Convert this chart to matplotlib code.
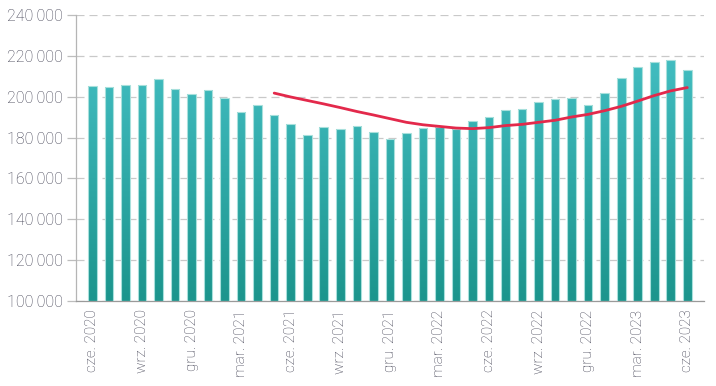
import numpy as np
import matplotlib

matplotlib.use("Agg")
import matplotlib.pyplot as plt
from matplotlib.colors import LinearSegmentedColormap

# monthly values, cze. 2020 .. cze. 2023
months = [
    "cze. 2020", "lip. 2020", "sie. 2020", "wrz. 2020", "paź. 2020", "lis. 2020",
    "gru. 2020", "sty. 2021", "lut. 2021", "mar. 2021", "kwi. 2021", "maj. 2021",
    "cze. 2021", "lip. 2021", "sie. 2021", "wrz. 2021", "paź. 2021", "lis. 2021",
    "gru. 2021", "sty. 2022", "lut. 2022", "mar. 2022", "kwi. 2022", "maj. 2022",
    "cze. 2022", "lip. 2022", "sie. 2022", "wrz. 2022", "paź. 2022", "lis. 2022",
    "gru. 2022", "sty. 2023", "lut. 2023", "mar. 2023", "kwi. 2023", "maj. 2023",
    "cze. 2023",
]
values = [
    205400, 204700, 205850, 205850, 208900, 203900, 201300, 203400, 199400,
    192500, 196100, 191200, 186800, 181300, 185300, 184400, 185900, 182800,
    179400, 182100, 184500, 185000, 184200, 188100, 190200, 193300, 194000,
    197600, 198900, 199400, 195800, 202000, 209300, 214600, 217200, 218200,
    213000,
]
# trend line (starts at maj. 2021)
trend_start = 11
trend = [
    201800, 199900, 198200, 196500, 194700, 192800, 191100, 189300, 187500,
    186300, 185500, 184700, 184400, 184900, 185900, 186500, 187500, 188500,
    190100, 191400, 193200, 195300, 197900, 200600, 202900, 204500,
]

YMIN, YMAX = 100000, 240000
BAR_W = 0.52
TEXT = "#3e3e50"

plt.rcParams["font.family"] = ["Roboto", "DejaVu Sans"]
plt.rcParams["font.weight"] = "light"

fig = plt.figure(figsize=(7.16, 3.86), dpi=100)
ax = fig.add_axes([0.106, 0.220, 0.877, 0.741])

cmap = LinearSegmentedColormap.from_list("teal", ["#1c958d", "#42bdc1"])
x = np.arange(len(values))
bars = ax.bar(x, [v - YMIN for v in values], bottom=YMIN, width=BAR_W,
              facecolor="none", edgecolor="#a8e0dc", linewidth=0.8, zorder=3)
for rect, v in zip(bars, values):
    x0 = rect.get_x()
    grad = np.linspace(v, YMIN, 64).reshape(-1, 1)
    im = ax.imshow(grad, extent=[x0, x0 + BAR_W, YMIN, v], aspect="auto",
                   cmap=cmap, vmin=YMIN, vmax=220000, zorder=2,
                   interpolation="bilinear")
    im.set_clip_path(rect)

tx = np.arange(trend_start, trend_start + len(trend))
ax.plot(tx, trend, color="#e3294b", linewidth=2.0, solid_capstyle="round",
        zorder=4)

ax.set_xlim(-1, len(values))
ax.set_ylim(YMIN, YMAX)

yt = np.arange(YMIN, YMAX + 1, 20000)
ax.set_yticks(yt)
ax.set_yticklabels([f"{v // 1000}\u2009{v % 1000:03d}" for v in yt],
                   fontsize=11.5, color=TEXT)
ax.set_xticks(x[::3])
ax.set_xticklabels(months[::3], rotation=90, fontsize=11, color=TEXT)

ax.yaxis.grid(True, color="#c9c9c9", linewidth=0.9, linestyle=(0, (6.4, 4)),
              zorder=0)
ax.set_axisbelow(True)
ax.tick_params(axis="y", length=6.5, width=0.9, color="#bdbdbd", pad=3)
ax.tick_params(axis="x", length=0, pad=6)
for side in ("top", "right"):
    ax.spines[side].set_visible(False)
ax.spines["left"].set_color("#b5b5b5")
ax.spines["bottom"].set_color("#9a9a9a")
ax.spines["left"].set_linewidth(0.9)
ax.spines["bottom"].set_linewidth(0.9)

fig.savefig("out.png", dpi=100)
